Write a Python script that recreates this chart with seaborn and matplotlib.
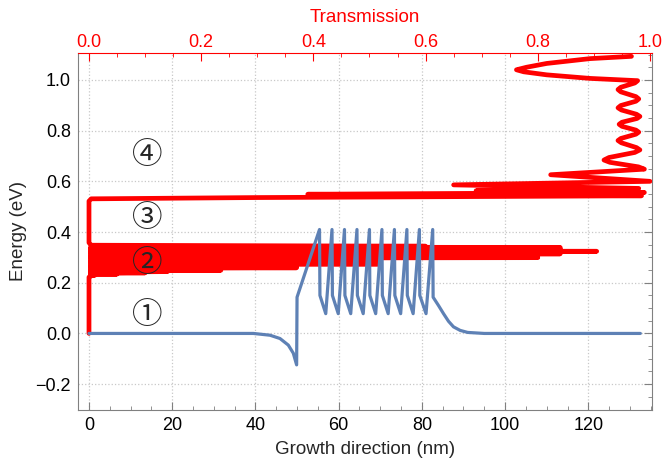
import seaborn as sns
import matplotlib.pyplot as plt
from matplotlib.ticker import MultipleLocator, FuncFormatter

# Potential profile along the growth direction (blue)
pot_x = [0.0, 39.5, 43.5, 45.9, 47.9, 49.1, 49.9, 50.0,
         55.4, 55.5, 56.9,
         58.4, 58.5, 59.9,
         61.4, 61.5, 62.9,
         64.4, 64.5, 65.9,
         67.4, 67.5, 68.9,
         70.4, 70.5, 71.9,
         73.4, 73.5, 74.9,
         76.4, 76.5, 77.9,
         79.4, 79.5, 81.0,
         82.6, 82.7, 84.0, 85.2, 86.4, 87.6, 89.2, 91.0, 95.0, 132.5]
pot_E = [0.0, 0.0, -0.007, -0.02, -0.046, -0.078, -0.124, 0.143,
         0.41, 0.15, 0.078,
         0.41, 0.15, 0.078,
         0.41, 0.15, 0.078,
         0.41, 0.15, 0.078,
         0.41, 0.15, 0.078,
         0.41, 0.15, 0.078,
         0.41, 0.15, 0.078,
         0.41, 0.15, 0.078,
         0.41, 0.15, 0.078,
         0.41, 0.143, 0.11, 0.078, 0.048, 0.026, 0.012, 0.004, 0.0, 0.0]

# Transmission vs energy (red)
trans_T = [0.000, 0.000, 0.003,
           # first miniband
           0.010, 0.003, 0.05, 0.003, 0.10, 0.003, 0.14, 0.003,
           0.235, 0.003, 0.235, 0.003, 0.37, 0.003, 0.37, 0.003,
           0.37, 0.003, 0.52, 0.003, 0.52, 0.003, 0.52, 0.003, 0.52, 0.003,
           0.52, 0.003, 0.80, 0.003, 0.80, 0.003, 0.80, 0.003,
           0.84, 0.003, 0.84, 0.003, 0.905, 0.003, 0.84, 0.003,
           0.84, 0.003, 0.84, 0.003, 0.60, 0.004,
           # gap
           0.000, 0.000, 0.004,
           # above the barriers
           0.30, 0.985, 0.39, 0.99, 0.69, 0.98, 0.65, 1.00, 0.823,
           0.99, 0.9795, 0.9285, 0.918, 0.927, 0.973,
           0.982, 0.976, 0.949, 0.943, 0.948, 0.975,
           0.980, 0.975, 0.950, 0.945, 0.950, 0.977,
           0.982, 0.976, 0.949, 0.943, 0.948, 0.975,
           0.980, 0.975, 0.948, 0.943, 0.948, 0.973,
           0.978, 0.893, 0.816, 0.775, 0.762, 0.780, 0.816, 0.893, 0.967]
trans_E = [0.000, 0.222, 0.227,
           0.229, 0.2315, 0.234, 0.2365, 0.239, 0.2415, 0.244, 0.2465,
           0.249, 0.2515, 0.254, 0.2565, 0.259, 0.2615, 0.264, 0.2665,
           0.269, 0.2715, 0.274, 0.2765, 0.279, 0.2815, 0.284, 0.2865, 0.289, 0.2915,
           0.294, 0.2965, 0.299, 0.3015, 0.304, 0.3065, 0.309, 0.3115,
           0.314, 0.3165, 0.319, 0.3215, 0.324, 0.3265, 0.329, 0.3315,
           0.334, 0.3365, 0.339, 0.3415, 0.344, 0.348,
           0.358, 0.522, 0.531,
           0.536, 0.543, 0.549, 0.556, 0.563, 0.572, 0.586, 0.600, 0.626,
           0.648, 0.657, 0.675, 0.684, 0.694, 0.714,
           0.724, 0.733, 0.752, 0.761, 0.769, 0.786,
           0.794, 0.802, 0.817, 0.825, 0.833, 0.848,
           0.856, 0.8645, 0.8815, 0.890, 0.899, 0.916,
           0.925, 0.934, 0.953, 0.962, 0.971, 0.988,
           0.997, 1.006, 1.020, 1.032, 1.040, 1.050, 1.065, 1.084, 1.093]

# region markers
region_labels = ['①', '②', '③', '④']
region_E = [0.07, 0.275, 0.455, 0.70]
region_x = 14

x_ticks = [0, 20, 40, 60, 80, 100, 120]
y_ticks = [-0.2, 0.0, 0.2, 0.4, 0.6, 0.8, 1.0]
t_ticks = [0.0, 0.2, 0.4, 0.6, 0.8, 1.0]

sns.set_style("white")
plt.rcParams['font.family'] = ['Liberation Sans', 'DejaVu Sans']

fig = plt.figure(figsize=(6.62, 4.61), dpi=100)
pos = [78 / 662, 1 - 409.5 / 461, (652 - 78) / 662, (409.5 - 53.3) / 461]
ax = fig.add_axes(pos)
ax2 = ax.twiny()
ax3 = fig.add_axes(pos, sharex=ax, sharey=ax)
ax3.axis('off')
ax3.patch.set_visible(False)
ax2.patch.set_visible(False)

sns.lineplot(x=trans_T, y=trans_E, ax=ax2, sort=False, estimator=None,
             color='red', lw=3.4)
sns.lineplot(x=pot_x, y=pot_E, ax=ax3, sort=False, estimator=None,
             color='#5E81B5', lw=2.3)

ax.set_xlim(-2.64, 135.3)
ax.set_ylim(-0.30, 1.105)
ax2.set_xlim(-0.0196, 1.0036)

fmt = FuncFormatter(lambda v, p: f'{v:.1f}'.replace('-', '\u2212'))
gray = '#808080'
ax.set_xticks(x_ticks)
ax.set_yticks(y_ticks)
ax.xaxis.set_minor_locator(MultipleLocator(5))
ax.yaxis.set_minor_locator(MultipleLocator(0.05))
ax.yaxis.set_major_formatter(fmt)
ax.grid(True, which='major', color='#c8c8c8', linestyle=':', linewidth=0.9)
ax.tick_params(which='both', direction='in', top=False, right=True,
               color=gray, labelsize=13, labelcolor='black')
ax.tick_params(which='major', length=6)
ax.tick_params(which='minor', length=3)
ax.tick_params(axis='x', pad=5.5)
ax.tick_params(axis='y', pad=5)
for s in ['left', 'right', 'bottom']:
    ax.spines[s].set_color(gray)
ax.spines['top'].set_visible(False)
ax.set_xlabel('Growth direction (nm)', fontsize=13.5, labelpad=5)
ax.set_ylabel('Energy (eV)', fontsize=13.5, labelpad=6)

ax2.set_xticks(t_ticks)
ax2.xaxis.set_minor_locator(MultipleLocator(0.05))
ax2.xaxis.set_major_formatter(fmt)
ax2.tick_params(axis='x', which='both', direction='in', colors='red',
                labelsize=13, pad=2)
ax2.tick_params(axis='x', which='major', length=6)
ax2.tick_params(axis='x', which='minor', length=3)
ax2.spines['top'].set_color('red')
for s in ['left', 'right', 'bottom']:
    ax2.spines[s].set_visible(False)
ax2.set_xlabel('Transmission', fontsize=13.5, color='red', labelpad=8)

for lab, e in zip(region_labels, region_E):
    ax3.text(region_x, e, lab, fontsize=22, ha='center', va='center',
             family=['Noto Sans CJK JP', 'DejaVu Sans'])

fig.savefig('out.png', dpi=100)
